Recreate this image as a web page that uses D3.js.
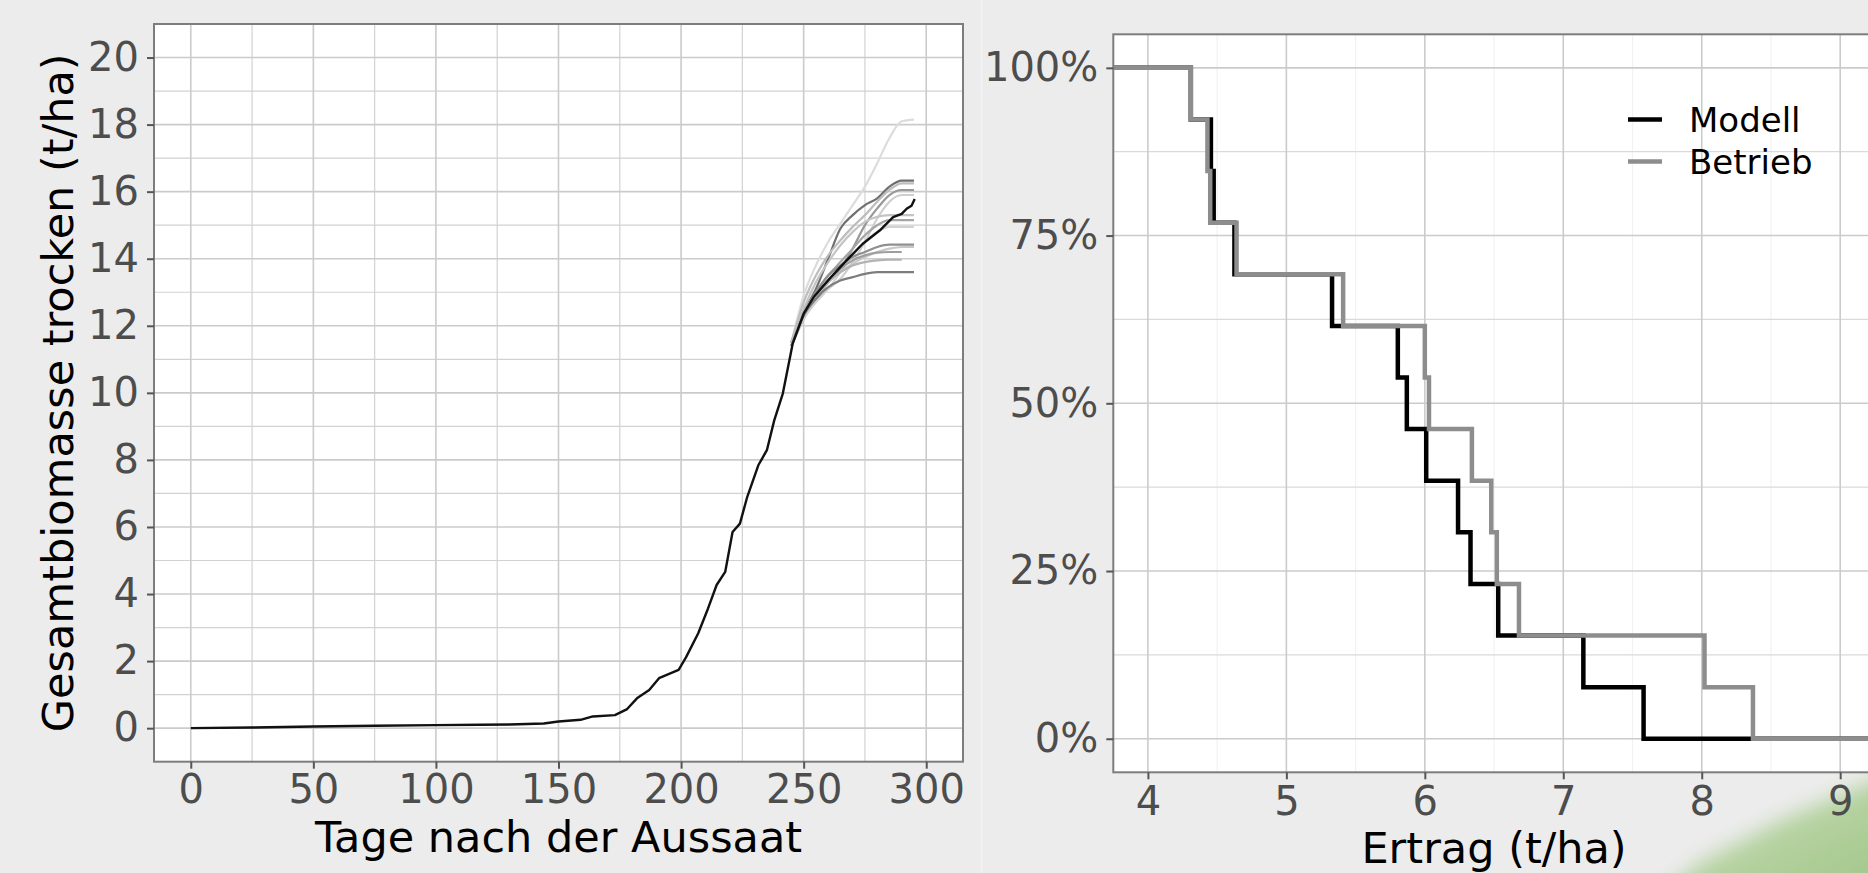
<!DOCTYPE html>
<html>
<head>
<meta charset="utf-8">
<script src="https://cdn.jsdelivr.net/npm/d3@7"></script>
<style>
  html, body { margin: 0; padding: 0; background: #ececec; overflow: hidden; }
  svg { display: block; font-family: 'DejaVu Sans', sans-serif; }
</style>
</head>
<body>
<svg id="chart" width="1868" height="873"></svg>
<script>
// left panel: total dry biomass over days after sowing
var tage = [0, 25, 50, 75, 100, 118, 130, 144, 150, 159, 164, 173, 178, 182, 187, 191, 199, 202, 207, 211,
  214.5, 218, 221, 224, 227, 231.5, 235, 238, 241.5, 245.5, 250, 254, 260.5, 267.5, 274, 281, 286.5, 290, 292, 294, 295.3];
var biomasse = [0, 0.02, 0.05, 0.07, 0.09, 0.1, 0.11, 0.14, 0.2, 0.25, 0.35, 0.39, 0.57, 0.89, 1.14, 1.49, 1.74, 2.11, 2.83, 3.57,
  4.27, 4.66, 5.85, 6.1, 6.9, 7.84, 8.29, 9.18, 9.98, 11.46, 12.36, 12.85, 13.4, 13.95, 14.44, 14.84, 15.24, 15.34, 15.49, 15.58, 15.78];

// single years, only where they split from the main line
var ensembleTage = [245, 250, 255, 260, 265, 270, 275, 280, 285, 290, 295];
var ensemble = [
  [11.5, 12.9, 13.8, 14.5, 15.05, 15.6, 16.15, 16.85, 17.6, 18.1, 18.15],
  [11.5, 12.4, 13.1, 14.0, 14.9, 15.3, 15.6, 15.8, 16.15, 16.33, 16.33],
  [11.5, 12.7, 13.5, 14.1, 14.55, 14.95, 15.3, 15.7, 16.05, 16.25, 16.25],
  [11.4, 12.2, 12.8, 13.3, 13.7, 14.3, 15.0, 15.5, 15.9, 16.05, 16.05],
  [11.4, 12.3, 12.8, 13.1, 13.4, 13.9, 14.5, 15.2, 15.7, 15.9, 15.9],
  [11.5, 12.5, 13.3, 13.9, 14.4, 14.8, 15.1, 15.25, 15.3, 15.3, 15.3],
  [11.4, 12.3, 13.0, 13.5, 13.9, 14.3, 14.7, 15.0, 15.15, 15.15, 15.15],
  [11.4, 12.2, 12.7, 13.1, 13.6, 14.1, 14.5, 14.8, 14.95, 14.95, 14.95],
  [11.5, 12.4, 13.0, 13.5, 13.8, 14.05, 14.2, 14.35, 14.42, 14.42, 14.42],
  [11.5, 12.4, 12.9, 13.3, 13.6, 13.85, 14.05, 14.2, 14.3, 14.35, 14.35],
  [11.4, 12.3, 12.9, 13.35, 13.7, 13.95, 14.1, 14.18, 14.2, 14.2, null],
  [11.4, 12.4, 12.95, 13.3, 13.6, 13.8, 13.9, 13.95, 13.97, 13.97, null],
  [11.4, 12.3, 12.8, 13.15, 13.35, 13.45, 13.55, 13.6, 13.6, 13.6, 13.6]
];
var ensembleFarben = ['#dcdcdc', '#6f6f6f', '#bdbdbd', '#999999', '#cfcfcf', '#c4c4c4', '#a6a6a6',
  '#d2d2d2', '#8f8f8f', '#c8c8c8', '#9e9e9e', '#b3b3b3', '#7d7d7d'];

// right panel: yields (t/ha)
var modellErtrag = [4.31, 4.455, 4.475, 4.625, 5.33, 5.805, 5.87, 6.01, 6.24, 6.33, 6.53, 7.145, 7.58];
var betriebErtrag = [4.31, 4.43, 4.45, 4.64, 5.41, 6.0, 6.03, 6.34, 6.48, 6.52, 6.68, 8.02, 8.37];
var serien = ['Modell', 'Betrieb'];
var serienFarben = ['#000000', '#8d8d8d'];

var tageTicks = [0, 50, 100, 150, 200, 250, 300];
var tageMinor = [25, 75, 125, 175, 225, 275];
var biomasseTicks = [0, 2, 4, 6, 8, 10, 12, 14, 16, 18, 20];
var biomasseMinor = [1, 3, 5, 7, 9, 11, 13, 15, 17, 19];
var ertragTicks = [4, 5, 6, 7, 8, 9];
var ertragMinor = [4.5, 5.5, 6.5, 7.5, 8.5];
var anteilTicks = [0, 0.25, 0.5, 0.75, 1];
var anteilMinor = [0.125, 0.375, 0.625, 0.875];

var svg = d3.select('#chart');

// slide decoration: green swoosh bottom right
var defs = svg.append('defs');
defs.append('filter').attr('id', 'weich')
  .attr('x', '-20%').attr('y', '-20%').attr('width', '140%').attr('height', '140%')
  .append('feGaussianBlur').attr('stdDeviation', 10);
var grad = defs.append('linearGradient').attr('id', 'gruen')
  .attr('x1', '0').attr('y1', '0').attr('x2', '1').attr('y2', '1');
grad.append('stop').attr('offset', '0%').attr('stop-color', '#dfe9d6');
grad.append('stop').attr('offset', '55%').attr('stop-color', '#b3d19e');
grad.append('stop').attr('offset', '100%').attr('stop-color', '#9fc486');
svg.append('path')
  .attr('d', 'M1655,900 L1700,862 L1780,820 L1900,770 L1900,900 Z')
  .attr('fill', 'url(#gruen)')
  .attr('filter', 'url(#weich)');

// faint seam between the two pictures
svg.append('line')
  .attr('x1', 981.5).attr('x2', 981.5).attr('y1', 0).attr('y2', 873)
  .attr('stroke', '#f4f4f4').attr('stroke-width', 1.5);

function panel(g, x, y, opts) {
  var x0 = x.range()[0], x1 = x.range()[1], y0 = y.range()[1], y1 = y.range()[0];
  g.append('rect')
    .attr('x', x0).attr('y', y0)
    .attr('width', x1 - x0).attr('height', y1 - y0)
    .attr('fill', '#ffffff');

  g.selectAll('.vminor').data(opts.xMinor).enter().append('line')
    .attr('x1', x).attr('x2', x).attr('y1', y0).attr('y2', y1)
    .attr('stroke', opts.vMinorColor).attr('stroke-width', 1.2);
  g.selectAll('.hminor').data(opts.yMinor).enter().append('line')
    .attr('y1', y).attr('y2', y).attr('x1', x0).attr('x2', x1)
    .attr('stroke', opts.hMinorColor).attr('stroke-width', 1.2);
  g.selectAll('.vmajor').data(opts.xTicks).enter().append('line')
    .attr('x1', x).attr('x2', x).attr('y1', y0).attr('y2', y1)
    .attr('stroke', '#cbcbcb').attr('stroke-width', 1.6);
  g.selectAll('.hmajor').data(opts.yTicks).enter().append('line')
    .attr('y1', y).attr('y2', y).attr('x1', x0).attr('x2', x1)
    .attr('stroke', '#cbcbcb').attr('stroke-width', 1.6);
}

function achsen(g, x, y, opts) {
  var x0 = x.range()[0], x1 = x.range()[1], y0 = y.range()[1], y1 = y.range()[0];

  g.append('rect')
    .attr('x', x0).attr('y', y0)
    .attr('width', x1 - x0).attr('height', y1 - y0)
    .attr('fill', 'none')
    .attr('stroke', '#7d7d7d').attr('stroke-width', 2);

  var ax = g.append('g')
    .attr('transform', 'translate(0,' + y1 + ')')
    .call(d3.axisBottom(x).tickValues(opts.xTicks).tickSize(7).tickPadding(opts.xPad).tickFormat(opts.xFormat));
  var ay = g.append('g')
    .attr('transform', 'translate(' + x0 + ',0)')
    .call(d3.axisLeft(y).tickValues(opts.yTicks).tickSize(7).tickPadding(8).tickFormat(opts.yFormat));

  [ax, ay].forEach(function(a) {
    a.select('.domain').remove();
    a.selectAll('line').attr('stroke', '#555555').attr('stroke-width', 2);
    a.selectAll('text')
      .attr('fill', '#4d4d4d')
      .style('font-size', '40px')
      .style('font-family', "'DejaVu Sans', sans-serif");
  });
}

// ---------- left panel ----------
var xL = d3.scaleLinear().domain([-15, 315]).range([154, 963]);
var yL = d3.scaleLinear().domain([-1, 21]).range([761.7, 24]);
var gL = svg.append('g');

panel(gL, xL, yL, {
  xTicks: tageTicks, xMinor: tageMinor, yTicks: biomasseTicks, yMinor: biomasseMinor,
  vMinorColor: '#d2d2d2', hMinorColor: '#d2d2d2'
});

var linieEns = d3.line()
  .defined(function(d) { return d[1] !== null; })
  .x(function(d) { return xL(d[0]); })
  .y(function(d) { return yL(d[1]); })
  .curve(d3.curveMonotoneX);

gL.selectAll('.ens')
  .data(ensemble)
  .enter().append('path')
  .attr('class', 'ens')
  .attr('d', function(werte) {
    return linieEns(ensembleTage.map(function(t, i) { return [t, werte[i]]; }));
  })
  .attr('fill', 'none')
  .attr('stroke', function(d, i) { return ensembleFarben[i]; })
  .attr('stroke-width', 2.2)
  .attr('stroke-linejoin', 'round');

var linieHaupt = d3.line()
  .x(function(d) { return xL(d[0]); })
  .y(function(d) { return yL(d[1]); });

gL.append('path')
  .attr('d', linieHaupt(tage.map(function(t, i) { return [t, biomasse[i]]; })))
  .attr('fill', 'none')
  .attr('stroke', '#111111')
  .attr('stroke-width', 2.4)
  .attr('stroke-linejoin', 'round');

achsen(gL, xL, yL, {
  xTicks: tageTicks, yTicks: biomasseTicks, xPad: 6,
  xFormat: d3.format('d'), yFormat: d3.format('d')
});

gL.append('text')
  .attr('x', (154 + 963) / 2).attr('y', 851.7)
  .attr('text-anchor', 'middle')
  .style('font-size', '43px')
  .attr('fill', '#000')
  .text('Tage nach der Aussaat');

gL.append('text')
  .attr('transform', 'translate(73,' + ((24 + 761.7) / 2) + ') rotate(-90)')
  .attr('text-anchor', 'middle')
  .style('font-size', '43px')
  .attr('fill', '#000')
  .text('Gesamtbiomasse trocken (t/ha)');

// ---------- right panel ----------
var xR = d3.scaleLinear().domain([3.75, 9.25]).range([1113.3, 1874.8]);
var yR = d3.scaleLinear().domain([-0.05, 1.05]).range([772.3, 34.3]);
var gR = svg.append('g');

panel(gR, xR, yR, {
  xTicks: ertragTicks, xMinor: ertragMinor, yTicks: anteilTicks, yMinor: anteilMinor,
  vMinorColor: '#f2f2f2', hMinorColor: '#dadada'
});

// exceedance curve: share of years with yield above x
function stufen(werte) {
  var s = werte.slice().sort(d3.ascending);
  var n = s.length;
  var pts = [[xR.domain()[0], 1]];
  s.forEach(function(w, i) { pts.push([w, 1 - (i + 1) / n]); });
  pts.push([xR.domain()[1], 0]);
  return pts;
}

var linieStufe = d3.line()
  .x(function(d) { return xR(d[0]); })
  .y(function(d) { return yR(d[1]); })
  .curve(d3.curveStepAfter);

[modellErtrag, betriebErtrag].forEach(function(werte, i) {
  gR.append('path')
    .attr('d', linieStufe(stufen(werte)))
    .attr('fill', 'none')
    .attr('stroke', serienFarben[i])
    .attr('stroke-width', 4.5)
    .attr('stroke-linejoin', 'miter');
});

achsen(gR, xR, yR, {
  xTicks: ertragTicks, yTicks: anteilTicks, xPad: 7,
  xFormat: d3.format('d'), yFormat: d3.format('.0%')
});

gR.append('text')
  .attr('x', (1113.3 + 1874.8) / 2).attr('y', 863.3)
  .attr('text-anchor', 'middle')
  .style('font-size', '43px')
  .attr('fill', '#000')
  .text('Ertrag (t/ha)');

// legend
var leg = gR.selectAll('.leg')
  .data(serien)
  .enter().append('g')
  .attr('class', 'leg')
  .attr('transform', function(d, i) { return 'translate(1628,' + (119.5 + i * 42) + ')'; });
leg.append('line')
  .attr('x1', 0).attr('x2', 34).attr('y1', 0).attr('y2', 0)
  .attr('stroke', function(d, i) { return serienFarben[i]; })
  .attr('stroke-width', 4.5);
leg.append('text')
  .attr('x', 61).attr('y', 0).attr('dy', '0.36em')
  .style('font-size', '34px')
  .attr('fill', '#000')
  .text(function(d) { return d; });
</script>
</body>
</html>
